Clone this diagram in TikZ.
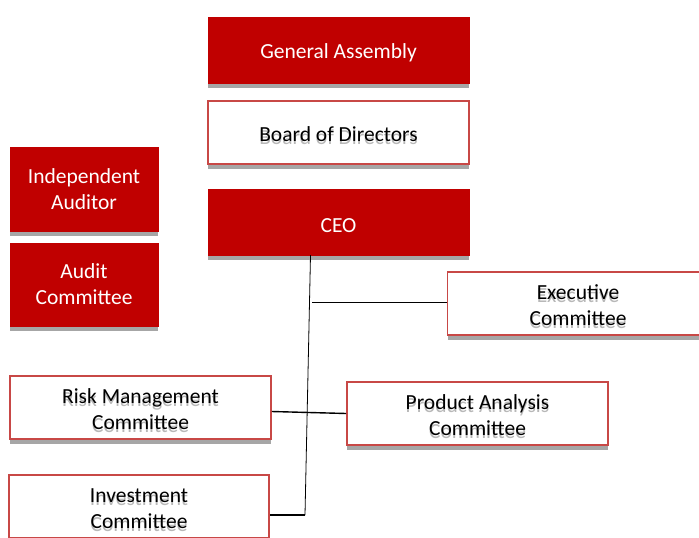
\documentclass[tikz,border=0pt]{standalone}
\usepackage{fontspec}
\setmainfont{Carlito}
\usepackage{xcolor}
\usetikzlibrary{shadows}
\definecolor{darkred}{RGB}{192,0,0}
\definecolor{edgered}{RGB}{200,72,70}
\newcommand\shd[1]{\makebox[0pt][l]{\raisebox{-3pt}{\color{black!28}#1}}#1}
\newcommand\twol[2]{\rule{0pt}{22pt}\shd{#1}\\\shd{#2}}

\begin{document}
\begin{tikzpicture}[x=1pt, y=-1pt,
    base/.style={rectangle, minimum width=261pt, minimum height=66pt, align=center, font=\fontsize{21.5}{26}\selectfont,
      execute at begin node={\rule{0pt}{21pt}},
      drop shadow={shadow xshift=0pt, shadow yshift=-5pt, fill=black!35, opacity=1}},
    redbox/.style={base, fill=darkred, draw=darkred, text=white},
    whitebox/.style={base, fill=white, draw=edgered, line width=1.6pt, minimum height=63pt, text=black}]
    \useasboundingbox (0,0) rectangle (699,538);
    \node[redbox] (ga) at (338.5, 50) {General Assembly};
    \node[whitebox] (bod) at (338.5, 132.5) {\shd{Board of Directors}};
    \node[redbox] (ceo) at (338.5, 222) {CEO};
    \node[redbox, minimum width=148pt, minimum height=84pt] (ia) at (84, 189) {Independent\\Auditor};
    \node[redbox, minimum width=148pt, minimum height=83pt] (ac) at (84, 284.5) {Audit\\Committee};
    \node[whitebox] (exec) at (578, 303.5) {\twol{Executive}{Committee}};
    \node[whitebox] (risk) at (140.5, 407.5) {\twol{Risk Management}{Committee}};
    \node[whitebox] (pac) at (477.5, 413.5) {\twol{Product Analysis}{Committee}};
    \node[whitebox, minimum width=260pt] (inv) at (139, 506.5) {\twol{Investment}{Committee}};
    \coordinate (trunk) at (305, 515);
    \coordinate (tap) at (312, 302);
    \draw [line width=0.8pt] ([xshift=-28pt]ceo.south) -- (trunk);
    \draw [line width=1.4pt] (trunk) -- (inv.east |- trunk);
    \draw [line width=0.8pt] (tap) -- (exec.west |- tap);
    \draw [line width=1.4pt] ([yshift=-4pt]risk.east) -- (pac.west);
\end{tikzpicture}
\end{document}
